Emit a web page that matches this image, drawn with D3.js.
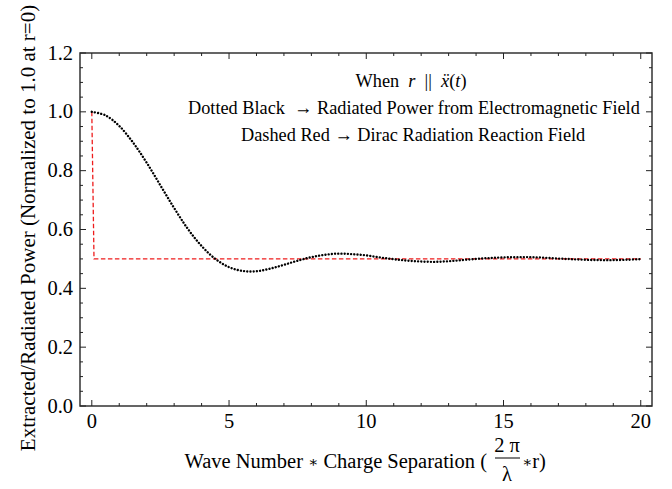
<!DOCTYPE html>
<html>
<head>
<meta charset="utf-8">
<script src="https://cdn.jsdelivr.net/npm/d3@7"></script>
<style>
  body { margin: 0; background: #fff; }
  svg text { font-family: "Liberation Serif", "DejaVu Serif", serif; }
</style>
</head>
<body>
<div id="content"></div>
<script>
// wave number * charge separation
const kr = [0, 0.5, 1, 1.5, 2, 2.5, 3, 3.5, 4, 4.5, 5, 5.5, 6, 6.5, 7, 7.5, 8, 8.5, 9, 9.5,
            10, 10.5, 11, 11.5, 12, 12.5, 13, 13.5, 14, 14.5, 15, 15.5, 16, 16.5, 17, 17.5, 18, 18.5, 19, 19.5, 20];
// dotted black: radiated power from EM field
const emPower = [1.000, 0.988, 0.952, 0.896, 0.827, 0.750, 0.673, 0.602, 0.544, 0.500, 0.472, 0.459, 0.458,
                 0.467, 0.480, 0.494, 0.506, 0.514, 0.518, 0.516, 0.512, 0.505, 0.499, 0.494, 0.491, 0.490,
                 0.492, 0.496, 0.500, 0.503, 0.505, 0.506, 0.506, 0.504, 0.501, 0.499, 0.497, 0.496, 0.496,
                 0.497, 0.499];
// dashed red: Dirac radiation reaction field
const diracX = [0, 0.08, 20];
const diracY = [1.0, 0.5, 0.5];

const xTicks = [0, 5, 10, 15, 20];
const yTicks = [0.0, 0.2, 0.4, 0.6, 0.8, 1.0, 1.2];

const width = 672, height = 489;
const fLeft = 80, fRight = 652, fTop = 53, fBottom = 406;

const svg = d3.select("#content").append("svg")
    .attr("width", width).attr("height", height)
    .style("display", "block");

const x = d3.scaleLinear().domain([-0.43, 20.41]).range([fLeft, fRight]);
const y = d3.scaleLinear().domain([0, 1.2]).range([fBottom, fTop]);

// frame
svg.append("rect")
    .attr("x", fLeft).attr("y", fTop)
    .attr("width", fRight - fLeft).attr("height", fBottom - fTop)
    .attr("fill", "none").attr("stroke", "#333").attr("stroke-width", 1.5);

// ticks on all four sides, pointing inward
const xMinor = d3.range(0, 20.01, 1);
const yMinor = d3.range(0, 1.2001, 0.05);
const tickG = svg.append("g").attr("stroke", "#222").attr("stroke-width", 1);
xMinor.forEach(v => {
    const len = Math.abs(v % 5) < 1e-6 ? 6 : 3;
    tickG.append("line").attr("x1", x(v)).attr("x2", x(v)).attr("y1", fBottom).attr("y2", fBottom - len);
    tickG.append("line").attr("x1", x(v)).attr("x2", x(v)).attr("y1", fTop).attr("y2", fTop + len);
});
yMinor.forEach(v => {
    const major = Math.round(v * 100) % 20 === 0;
    const len = major ? 6 : 3;
    tickG.append("line").attr("x1", fLeft).attr("x2", fLeft + len).attr("y1", y(v)).attr("y2", y(v));
    tickG.append("line").attr("x1", fRight).attr("x2", fRight - len).attr("y1", y(v)).attr("y2", y(v));
});

// tick labels
svg.append("g").selectAll("text").data(xTicks).enter().append("text")
    .attr("x", d => x(d)).attr("y", 428)
    .attr("text-anchor", "middle").attr("font-size", 20.5)
    .text(d => d);
svg.append("g").selectAll("text").data(yTicks).enter().append("text")
    .attr("x", 73).attr("y", d => y(d) + 6.5)
    .attr("text-anchor", "end").attr("font-size", 20.5)
    .text(d => d3.format(".1f")(d));

// curves
const emData = kr.map((k, i) => [k, emPower[i]]);
const diracData = diracX.map((k, i) => [k, diracY[i]]);

const line = d3.line().x(d => x(d[0])).y(d => y(d[1]));

svg.append("path")
    .datum(diracData)
    .attr("d", line)
    .attr("fill", "none")
    .attr("stroke", "#ee1c1c")
    .attr("stroke-width", 1.3)
    .attr("stroke-dasharray", "4.5,2.5");

svg.append("path")
    .datum(emData)
    .attr("d", line.curve(d3.curveCatmullRom))
    .attr("fill", "none")
    .attr("stroke", "#000")
    .attr("stroke-width", 2.4)
    .attr("stroke-linecap", "round")
    .attr("stroke-dasharray", "0.01,3.2");

// annotation
const note = svg.append("g").attr("font-size", 18.3).attr("fill", "#000");
const l1 = note.append("text").attr("x", 411).attr("y", 87).attr("text-anchor", "middle")
    .attr("xml:space", "preserve");
l1.append("tspan").text("When  ");
l1.append("tspan").attr("font-style", "italic").text("r");
l1.append("tspan").text("  ||  ");
l1.append("tspan").attr("font-style", "italic").text("\u1E8D");
l1.append("tspan").text("(");
l1.append("tspan").attr("font-style", "italic").text("t");
l1.append("tspan").text(")");
note.append("text").attr("x", 188).attr("y", 114).attr("xml:space", "preserve")
    .text("Dotted Black  \u2192 Radiated Power from Electromagnetic Field");
note.append("text").attr("x", 241).attr("y", 141)
    .text("Dashed Red \u2192 Dirac Radiation Reaction Field");

// y axis label
svg.append("text")
    .attr("transform", "translate(35," + 228 + ") rotate(-90)")
    .attr("text-anchor", "middle").attr("font-size", 21)
    .text("Extracted/Radiated Power (Normalized to 1.0 at r=0)");

// x axis label with fraction
const xl = svg.append("g").attr("font-size", 20.5);
const main = xl.append("text").attr("x", 487).attr("y", 468).attr("text-anchor", "end");
main.append("tspan").text("Wave Number ");
main.append("tspan").attr("font-size", 15).attr("dy", -1).text("\u2217");
main.append("tspan").attr("dy", 1).text(" Charge Separation (");
xl.append("text").attr("x", 507).attr("y", 452).attr("text-anchor", "middle")
    .attr("xml:space", "preserve")
    .text("2 \u03C0");
xl.append("line").attr("x1", 495).attr("x2", 520).attr("y1", 458).attr("y2", 458)
    .attr("stroke", "#000").attr("stroke-width", 1);
xl.append("text").attr("x", 507).attr("y", 481).attr("text-anchor", "middle")
    .text("\u03BB");
const tail = xl.append("text").attr("x", 522).attr("y", 468);
tail.append("tspan").attr("font-size", 15).attr("dy", -1).text("\u2217");
tail.append("tspan").attr("dy", 1).text("r)");
</script>
</body>
</html>
